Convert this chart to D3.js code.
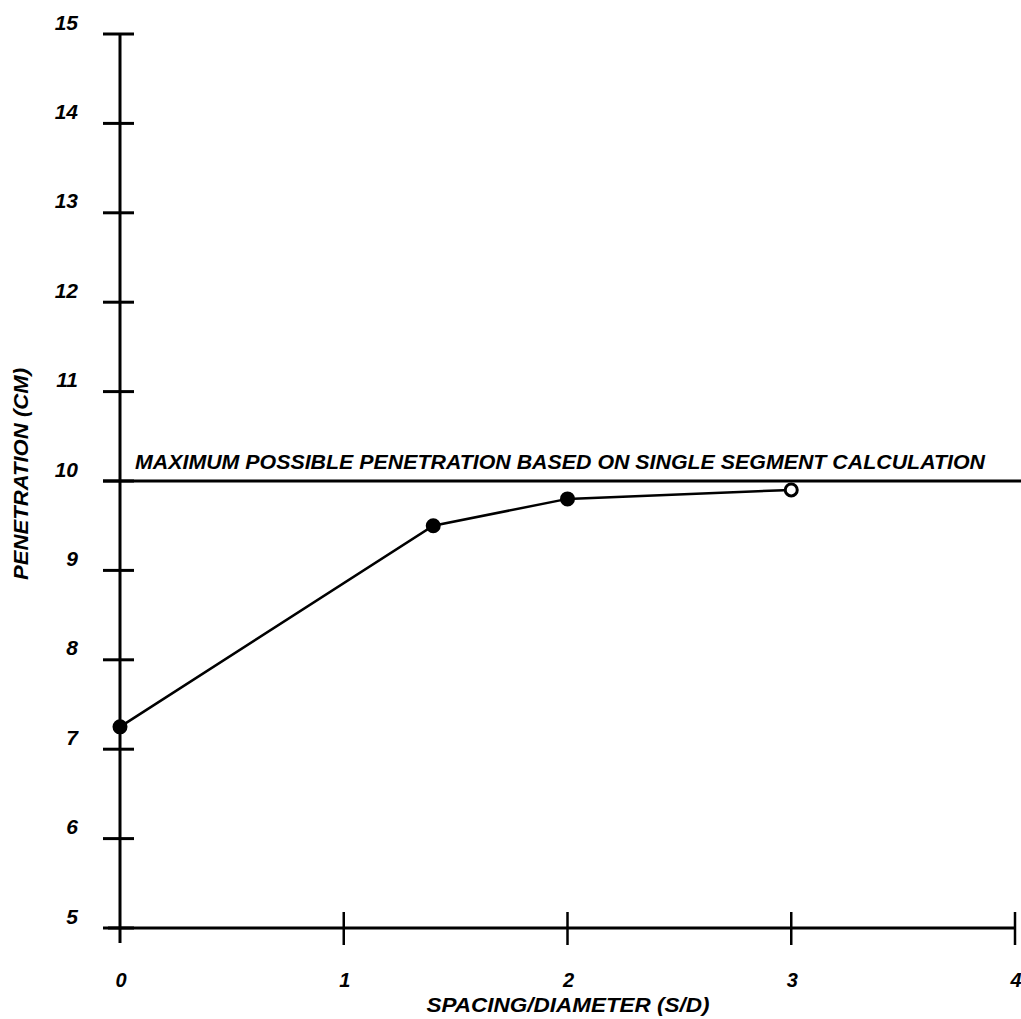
<!DOCTYPE html>
<html>
<head>
<meta charset="utf-8">
<script src="https://cdn.jsdelivr.net/npm/d3@7/dist/d3.min.js"></script>
<style>
  html, body { margin: 0; padding: 0; background: #fff; }
  svg { display: block; }
  text { font-family: "Liberation Sans", "DejaVu Sans", sans-serif; font-style: italic; font-weight: bold; fill: #000; }
</style>
</head>
<body>
<svg id="chart" width="1021" height="1019"></svg>
<script>
// ---- data ----
const spacing = [0, 1.4, 2, 3];
const penetration = [7.25, 9.5, 9.8, 9.9];
const markerOpen = [false, false, false, true];
const xTicks = [0, 1, 2, 3, 4];
const yTicks = [5, 6, 7, 8, 9, 10, 11, 12, 13, 14, 15];
const maxPenetration = 10;
const annotation = "MAXIMUM POSSIBLE PENETRATION BASED ON SINGLE SEGMENT CALCULATION";
const xTitle = "SPACING/DIAMETER (S/D)";
const yTitle = "PENETRATION (CM)";

const svg = d3.select("#chart");
const x = d3.scaleLinear().domain([0, 4]).range([120, 1015]);
const y = d3.scaleLinear().domain([5, 15]).range([928, 34]);

// y axis
svg.append("line").attr("x1", x(0)).attr("x2", x(0)).attr("y1", y(15)).attr("y2", y(5) + 15)
  .attr("stroke", "#000").attr("stroke-width", 3);
svg.selectAll(".ytick").data(yTicks).enter().append("line")
  .attr("x1", x(0) - 17).attr("x2", x(0) + 14)
  .attr("y1", d => y(d)).attr("y2", d => y(d))
  .attr("stroke", "#000").attr("stroke-width", 3);
svg.selectAll(".ylab").data(yTicks).enter().append("text")
  .attr("x", 78).attr("y", d => y(d) - 12).attr("dy", "0.36em")
  .attr("text-anchor", "end").attr("font-size", 21)
  .text(d => d);

// x axis
svg.append("line").attr("x1", x(0) - 12).attr("x2", x(4)).attr("y1", y(5)).attr("y2", y(5))
  .attr("stroke", "#000").attr("stroke-width", 3);
svg.selectAll(".xtick").data(xTicks.slice(1)).enter().append("line")
  .attr("x1", d => x(d)).attr("x2", d => x(d))
  .attr("y1", y(5) - 16).attr("y2", y(5) + 17)
  .attr("stroke", "#000").attr("stroke-width", 2.5);
svg.selectAll(".xlab").data(xTicks).enter().append("text")
  .attr("x", d => x(d) + 1).attr("y", 980).attr("dy", "0.36em")
  .attr("text-anchor", "middle").attr("font-size", 20)
  .text(d => d);

// max penetration line
svg.append("line").attr("x1", x(0) - 17).attr("x2", 1021).attr("y1", y(maxPenetration)).attr("y2", y(maxPenetration))
  .attr("stroke", "#000").attr("stroke-width", 3);
svg.append("text").attr("x", 135).attr("y", 469)
  .attr("font-size", 21).attr("textLength", 850).attr("lengthAdjust", "spacingAndGlyphs")
  .text(annotation);

// data line
const pts = spacing.map((s, i) => [s, penetration[i]]);
svg.append("path").datum(pts)
  .attr("d", d3.line().x(d => x(d[0])).y(d => y(d[1])))
  .attr("fill", "none").attr("stroke", "#000").attr("stroke-width", 2.5);
svg.selectAll(".pt").data(pts).enter().append("circle")
  .attr("cx", d => x(d[0])).attr("cy", d => y(d[1])).attr("r", 6)
  .attr("fill", (d, i) => markerOpen[i] ? "#fff" : "#000")
  .attr("stroke", "#000").attr("stroke-width", 3);

// titles
svg.append("text").attr("x", 568).attr("y", 1012)
  .attr("text-anchor", "middle").attr("font-size", 21)
  .attr("textLength", 283).attr("lengthAdjust", "spacingAndGlyphs")
  .text(xTitle);
svg.append("text").attr("transform", "translate(28,474) rotate(-90)")
  .attr("text-anchor", "middle").attr("font-size", 20)
  .attr("textLength", 212).attr("lengthAdjust", "spacingAndGlyphs")
  .text(yTitle);
</script>
</body>
</html>
